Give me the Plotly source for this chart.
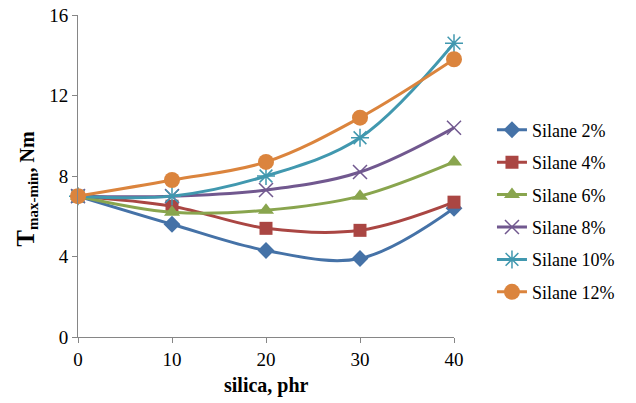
import plotly.graph_objects as go

silica = [0, 10, 20, 30, 40]
series_names = ["Silane 2%", "Silane 4%", "Silane 6%", "Silane 8%", "Silane 10%", "Silane 12%"]
s2 = [7.0, 5.6, 4.3, 3.9, 6.4]
s4 = [7.0, 6.5, 5.4, 5.3, 6.7]
s6 = [7.0, 6.2, 6.3, 7.0, 8.7]
s8 = [7.0, 7.0, 7.3, 8.2, 10.4]
s10 = [7.0, 7.0, 8.0, 9.9, 14.6]
s12 = [7.0, 7.8, 8.7, 10.9, 13.8]
y_ticks = [0, 4, 8, 12, 16]
x_ticks = [0, 10, 20, 30, 40]

values = [s2, s4, s6, s8, s10, s12]
colors = ["#4572A7", "#AA4643", "#89A54E", "#71588F", "#4198AF", "#DB843D"]
symbols = ["diamond", "square", "triangle-up", "x-thin-open", "asterisk-open", "circle"]
sizes = [13, 13, 14, 14, 15, 16]

font = "Liberation Serif"
fig = go.Figure()
for i, (name, vals) in enumerate(zip(series_names, values)):
    fig.add_trace(go.Scatter(
        x=silica, y=vals, name=name, mode="lines+markers",
        line=dict(color=colors[i], width=3, shape="spline", smoothing=1.0),
        marker=dict(symbol=symbols[i], size=sizes[i], color=colors[i],
                    line=dict(color=colors[i], width=1.5 if i in (3, 4) else 0)),
        legendgroup=name, cliponaxis=False,
    ))

# Figure is offset by the page's 8px body margin, so size/margins compensate.
fig.update_layout(
    width=628, height=395,
    margin=dict(l=70, r=182, t=7, b=66, autoexpand=False),
    paper_bgcolor="white", plot_bgcolor="white",
    font=dict(family=font, size=19, color="black"),
    showlegend=True,
    legend=dict(x=1.101, y=0.70, xanchor="left", yanchor="top",
                font=dict(family=font, size=18, color="black"), tracegroupgap=6,
                traceorder="grouped", bgcolor="rgba(0,0,0,0)"),
    xaxis=dict(range=[0, 40], tickvals=x_ticks, showgrid=False, zeroline=False,
               showline=True, linecolor="#868686", linewidth=1, automargin=False,
               ticks="outside", ticklen=5, tickcolor="#868686", ticklabeloverflow="allow",
               tickfont=dict(family=font, size=19, color="black")),
    yaxis=dict(range=[0, 16], tickvals=y_ticks, showgrid=False, zeroline=False,
               showline=True, linecolor="#868686", linewidth=1, automargin=False,
               ticks="outside", ticklen=5, tickcolor="#868686", ticklabeloverflow="allow",
               tickfont=dict(family=font, size=19, color="black")),
)

fig.add_annotation(
    text="<b>silica, phr</b>", xref="paper", yref="paper", x=0.5, y=-0.152,
    xanchor="center", yanchor="middle", showarrow=False,
    font=dict(family=font, size=20, color="black"),
)
fig.add_annotation(
    text="<b><span style='font-size:25px'>T</span><sub><span style='font-size:15px'>max-min</span></sub>, Nm</b>",
    xref="paper", yref="paper", x=-0.136, y=0.46, textangle=-90,
    xanchor="center", yanchor="middle", showarrow=False,
    font=dict(family=font, size=20, color="black"),
)

fig.write_html("out.html")
